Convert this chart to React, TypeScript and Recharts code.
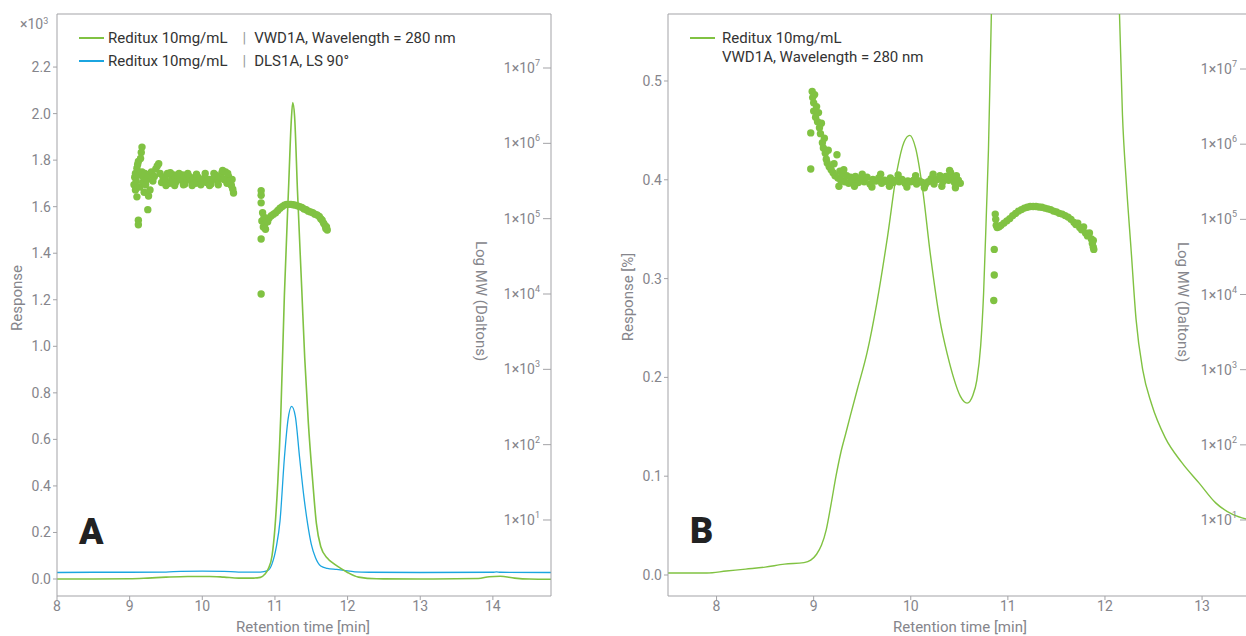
import React from 'react';
import { ComposedChart, Line, Scatter, XAxis, YAxis, ReferenceLine } from 'recharts';

const GREEN = '#80c242';
const BLUE = '#1ba5e0';
const TICK_TEXT = '#85858b';
const AXIS_LINE = '#a3a3a7';

// ---- panel A: retention time (min) vs response (x10^3) ----
const uvA: [number, number][] = [
  [8.0, 0.0], [8.5, 0.0], [9.0, 0.001], [9.25, 0.004], [9.5, 0.008], [9.8, 0.011], [10.1, 0.011],
  [10.3, 0.008], [10.5, 0.004], [10.7, 0.004], [10.8, 0.007], [10.86, 0.02], [10.91, 0.045],
  [10.96, 0.1], [11.0, 0.22], [11.04, 0.42], [11.08, 0.7], [11.13, 1.22], [11.19, 1.7],
  [11.225, 1.97], [11.245, 2.047], [11.27, 1.99], [11.31, 1.67], [11.37, 1.24], [11.41, 0.95],
  [11.46, 0.67], [11.52, 0.42], [11.57, 0.24], [11.63, 0.14], [11.72, 0.09], [11.8, 0.068],
  [11.9, 0.047], [12.0, 0.028], [12.15, 0.008], [12.4, 0.001], [13.0, 0.0], [13.8, 0.002],
  [13.95, 0.01], [14.1, 0.012], [14.3, 0.004], [14.5, 0.0], [14.8, -0.001],
];

const lsA: [number, number][] = [
  [8.0, 0.028], [8.5, 0.029], [9.0, 0.029], [9.5, 0.03], [9.7, 0.033], [10.0, 0.034], [10.3, 0.033],
  [10.5, 0.03], [10.8, 0.03], [10.9, 0.036], [10.96, 0.065], [11.02, 0.14], [11.07, 0.25],
  [11.13, 0.52], [11.18, 0.685], [11.23, 0.742], [11.28, 0.7], [11.34, 0.52], [11.4, 0.35],
  [11.45, 0.237], [11.5, 0.15], [11.56, 0.09], [11.63, 0.056], [11.72, 0.046], [11.85, 0.041],
  [11.95, 0.037], [12.1, 0.031], [12.3, 0.029], [13.0, 0.028], [14.0, 0.029], [14.05, 0.031],
  [14.1, 0.029], [14.8, 0.028],
];

// log10(MW) points
const mwA: [number, number][] = [
  [9.06, 5.45], [9.07, 5.55], [9.08, 5.38], [9.08, 5.6], [9.09, 5.5], [9.1, 5.67], [9.1, 5.29],
  [9.11, 5.72], [9.12, 5.76], [9.12, 4.98], [9.12, 4.92], [9.13, 5.58], [9.14, 5.42], [9.15, 5.8],
  [9.16, 5.88], [9.17, 5.95], [9.17, 5.62], [9.18, 5.48], [9.19, 5.55], [9.2, 5.35], [9.21, 5.6],
  [9.22, 5.45], [9.24, 5.52], [9.25, 5.12], [9.26, 5.3], [9.27, 5.58], [9.28, 5.38], [9.3, 5.62],
  [9.32, 5.5], [9.34, 5.56], [9.36, 5.66], [9.38, 5.7], [9.4, 5.73], [9.42, 5.6], [9.44, 5.48],
  [9.46, 5.55], [9.49, 5.52], [9.52, 5.6], [9.55, 5.47], [9.58, 5.54], [9.61, 5.58], [9.64, 5.49],
  [9.67, 5.55], [9.7, 5.52], [9.73, 5.58], [9.76, 5.46], [9.79, 5.53], [9.82, 5.56], [9.85, 5.5],
  [9.88, 5.54], [9.91, 5.47], [9.94, 5.55], [9.97, 5.52], [10.0, 5.5], [10.03, 5.54], [10.06, 5.48],
  [10.09, 5.52], [10.12, 5.46], [10.15, 5.53], [10.18, 5.58], [10.21, 5.5], [10.24, 5.56],
  [10.27, 5.61], [10.3, 5.52], [10.32, 5.62], [10.34, 5.47], [10.36, 5.56], [10.38, 5.5],
  [10.4, 5.44], [10.41, 5.52], [10.42, 5.39], [10.43, 5.34],
  [9.5, 5.44], [9.56, 5.61], [9.62, 5.44], [9.68, 5.6], [9.74, 5.45], [9.8, 5.6], [9.86, 5.44],
  [9.92, 5.59], [9.98, 5.45], [10.04, 5.6], [10.1, 5.44], [10.16, 5.6], [10.22, 5.45],
  [10.28, 5.64], [10.35, 5.6], [10.39, 5.46],
  [10.81, 5.37], [10.81, 5.31], [10.81, 5.21], [10.81, 4.73], [10.81, 4.0],
  [10.82, 4.97], [10.83, 5.08], [10.84, 4.89], [10.85, 5.02], [10.86, 4.93], [10.87, 4.86],
  [10.88, 5.0], [10.9, 4.96], [10.92, 5.01], [10.95, 5.04], [10.98, 5.06], [11.01, 5.08],
  [11.04, 5.11], [11.07, 5.14], [11.1, 5.16], [11.13, 5.18], [11.16, 5.19], [11.19, 5.19],
  [11.22, 5.19], [11.25, 5.185], [11.28, 5.18], [11.31, 5.17], [11.34, 5.16], [11.37, 5.15],
  [11.4, 5.13], [11.43, 5.12], [11.46, 5.1], [11.49, 5.09], [11.52, 5.08], [11.55, 5.06],
  [11.58, 5.05], [11.61, 5.03], [11.63, 5.0], [11.65, 4.98], [11.67, 4.94], [11.69, 4.91],
  [11.7, 4.87], [11.71, 4.89], [11.72, 4.85],
];

// ---- panel B: response (%) ----
const uvB: [number, number][] = [
  [7.5, 0.002], [7.7, 0.002], [7.9, 0.002], [8.1, 0.004], [8.3, 0.006], [8.5, 0.008], [8.7, 0.011],
  [8.9, 0.0125], [8.97, 0.015], [9.03, 0.021], [9.08, 0.03], [9.13, 0.046], [9.18, 0.072],
  [9.23, 0.1], [9.28, 0.124], [9.33, 0.143], [9.38, 0.162], [9.45, 0.188], [9.55, 0.225],
  [9.65, 0.275], [9.76, 0.342], [9.86, 0.41], [9.93, 0.438], [9.99, 0.445], [10.05, 0.432],
  [10.12, 0.392], [10.2, 0.326], [10.3, 0.258], [10.38, 0.222], [10.44, 0.2], [10.51, 0.181],
  [10.58, 0.174], [10.64, 0.182], [10.68, 0.197], [10.72, 0.232], [10.75, 0.285], [10.78, 0.37],
  [10.8, 0.43], [10.82, 0.52], [10.85, 0.66], [10.95, 0.95], [11.2, 1.15], [11.45, 1.2],
  [11.7, 1.1], [11.95, 0.9], [12.08, 0.7], [12.14, 0.6], [12.18, 0.466], [12.22, 0.397],
  [12.27, 0.328], [12.32, 0.259], [12.39, 0.207], [12.48, 0.173], [12.62, 0.139], [12.79, 0.114],
  [12.97, 0.093], [13.14, 0.073], [13.32, 0.061], [13.48, 0.056],
];

const mwB: [number, number][] = [
  [8.97, 6.15], [8.97, 5.67], [8.985, 6.7], [8.99, 6.62], [9.0, 6.55], [9.0, 6.44], [9.01, 6.66],
  [9.02, 6.36], [9.03, 6.5], [9.04, 6.3], [9.05, 6.42], [9.06, 6.22], [9.07, 6.14], [9.08, 6.28],
  [9.09, 6.02], [9.1, 5.95], [9.11, 6.08], [9.12, 5.88], [9.13, 5.8], [9.14, 5.75], [9.15, 5.92],
  [9.16, 5.7], [9.18, 5.66], [9.2, 5.62], [9.21, 5.74], [9.22, 5.58], [9.24, 5.86], [9.25, 5.55],
  [9.27, 5.64], [9.28, 5.52], [9.3, 5.6], [9.32, 5.5], [9.34, 5.58], [9.36, 5.48], [9.38, 5.56],
  [9.4, 5.51], [9.43, 5.57], [9.46, 5.49], [9.49, 5.54], [9.52, 5.5], [9.55, 5.56], [9.58, 5.47],
  [9.61, 5.53], [9.64, 5.51], [9.67, 5.55], [9.7, 5.48], [9.73, 5.52], [9.76, 5.5], [9.79, 5.55],
  [9.82, 5.49], [9.85, 5.52], [9.88, 5.5], [9.91, 5.53], [9.94, 5.48], [9.97, 5.51], [10.0, 5.5],
  [10.03, 5.52], [10.06, 5.47], [10.09, 5.51], [10.12, 5.49], [10.15, 5.46], [10.18, 5.5],
  [10.21, 5.54], [10.24, 5.47], [10.27, 5.53], [10.3, 5.58], [10.33, 5.5], [10.36, 5.57],
  [10.39, 5.52], [10.41, 5.62], [10.43, 5.55], [10.45, 5.49], [10.47, 5.58], [10.49, 5.52],
  [10.51, 5.48],
  [9.26, 5.44], [9.31, 5.66], [9.42, 5.44], [9.5, 5.6], [9.6, 5.43], [9.69, 5.6], [9.78, 5.44],
  [9.87, 5.59], [9.96, 5.43], [10.05, 5.58], [10.14, 5.42], [10.23, 5.6], [10.32, 5.44],
  [10.4, 5.65], [10.46, 5.42],
  [10.86, 4.6], [10.86, 4.26], [10.855, 3.92],
  [10.87, 5.07], [10.875, 5.0], [10.88, 4.92], [10.89, 4.89], [10.91, 4.9], [10.93, 4.92],
  [10.96, 4.95], [10.99, 4.98], [11.02, 5.01], [11.05, 5.05], [11.08, 5.08], [11.11, 5.11],
  [11.14, 5.13], [11.17, 5.15], [11.2, 5.16], [11.23, 5.17], [11.26, 5.17], [11.29, 5.17],
  [11.32, 5.165], [11.35, 5.16], [11.38, 5.15], [11.41, 5.14], [11.44, 5.13], [11.47, 5.11],
  [11.5, 5.1], [11.53, 5.08], [11.56, 5.07], [11.59, 5.05], [11.62, 5.03], [11.65, 5.0],
  [11.68, 4.96], [11.7, 4.93], [11.72, 4.95], [11.74, 4.89], [11.76, 4.86], [11.78, 4.9],
  [11.8, 4.82], [11.82, 4.78], [11.84, 4.82], [11.86, 4.74], [11.87, 4.68], [11.88, 4.63],
  [11.88, 4.72], [11.885, 4.6],
];

const xTicksA = [8, 9, 10, 11, 12, 13, 14];
const yTicksA = [0, 0.2, 0.4, 0.6, 0.8, 1.0, 1.2, 1.4, 1.6, 1.8, 2.0, 2.2];
const xTicksB = [8, 9, 10, 11, 12, 13];
const yTicksB = [0, 0.1, 0.2, 0.3, 0.4, 0.5];
const mwTicks = [1, 2, 3, 4, 5, 6, 7];

const toLine = (arr: [number, number][]) => arr.map(([t, v]) => ({ t, v }));
const toMw = (arr: [number, number][]) => arr.map(([t, mw]) => ({ t, mw }));

const MwTick = (props: any) => {
  const { x, y, payload } = props;
  return (
    <text x={x} y={y} dy={5} textAnchor="end" fill={TICK_TEXT} fontSize={14}>
      1×10<tspan dy={-7} fontSize={9}>{payload.value}</tspan>
    </text>
  );
};

const MwDot = (props: any) => <circle cx={props.cx} cy={props.cy} r={3.7} fill={GREEN} />;

const tickStyle = { fill: TICK_TEXT, fontSize: 14 };

const abs = (extra: React.CSSProperties): React.CSSProperties => ({ position: 'absolute', whiteSpace: 'pre', ...extra });

const Rotated = ({ x, y, deg, children }: { x: number; y: number; deg: number; children: React.ReactNode }) => (
  <div style={abs({ left: x, top: y, transform: `translate(-50%, -50%) rotate(${deg}deg)`, color: TICK_TEXT, fontSize: 15 })}>
    {children}
  </div>
);

const Sep = () => <span style={{ color: '#9a9a9a', margin: '0 8px 0 15px' }}>|</span>;

export default function App() {
  return (
    <div style={{ position: 'absolute', left: 0, top: 0, width: 1246, height: 636, overflow: 'hidden', background: '#fff', fontFamily: 'Roboto, sans-serif' }}>
      {/* panel A */}
      <div style={{ position: 'absolute', left: 0, top: 0 }}>
        <ComposedChart width={560} height={636} margin={{ top: 14, right: 9, bottom: 0, left: 0 }}>
          <XAxis type="number" dataKey="t" domain={[8, 14.8]} ticks={xTicksA} allowDataOverflow height={40}
            tick={tickStyle} tickSize={4} tickMargin={1} stroke={AXIS_LINE} />
          <YAxis yAxisId="resp" type="number" domain={[-0.073, 2.428]} ticks={yTicksA} allowDataOverflow width={57}
            tick={tickStyle} tickSize={4} tickMargin={2} stroke={AXIS_LINE} tickFormatter={(v: number) => v.toFixed(1)} />
          <YAxis yAxisId="mw" orientation="right" mirror type="number" domain={[-0.009, 7.717]} ticks={mwTicks}
            allowDataOverflow width={60} tick={<MwTick />} tickSize={8} tickMargin={3} stroke={AXIS_LINE} />
          <ReferenceLine yAxisId="resp" y={2.428} stroke={AXIS_LINE} />
          <Line yAxisId="resp" data={toLine(lsA)} dataKey="v" type="monotone" stroke={BLUE} strokeWidth={1.3} dot={false} isAnimationActive={false} />
          <Line yAxisId="resp" data={toLine(uvA)} dataKey="v" type="monotone" stroke={GREEN} strokeWidth={1.6} dot={false} isAnimationActive={false} />
          <Scatter yAxisId="mw" data={toMw(mwA)} dataKey="mw" shape={<MwDot />} isAnimationActive={false} />
        </ComposedChart>
      </div>

      {/* panel B */}
      <div style={{ position: 'absolute', left: 560, top: 0 }}>
        <ComposedChart width={700} height={636} margin={{ top: 14, right: 12, bottom: 0, left: 0 }}>
          <XAxis type="number" dataKey="t" domain={[7.5, 13.473]} ticks={xTicksB} allowDataOverflow height={40}
            tick={tickStyle} tickSize={4} tickMargin={1} stroke={AXIS_LINE} />
          <YAxis yAxisId="resp" type="number" domain={[-0.02125, 0.5678]} ticks={yTicksB} allowDataOverflow width={108}
            tick={tickStyle} tickSize={4} tickMargin={2} stroke={AXIS_LINE} tickFormatter={(v: number) => v.toFixed(1)} />
          <YAxis yAxisId="mw" orientation="right" mirror type="number" domain={[-0.011, 7.732]} ticks={mwTicks}
            allowDataOverflow width={60} tick={<MwTick />} tickSize={8} tickMargin={3} stroke={AXIS_LINE} />
          <ReferenceLine yAxisId="resp" y={0.5678} stroke={AXIS_LINE} />
          <Line yAxisId="resp" data={toLine(uvB)} dataKey="v" type="monotone" stroke={GREEN} strokeWidth={1.4} dot={false} isAnimationActive={false} />
          <Scatter yAxisId="mw" data={toMw(mwB)} dataKey="mw" shape={<MwDot />} isAnimationActive={false} />
        </ComposedChart>
      </div>

      {/* legends */}
      <div style={abs({ left: 79, top: 37, width: 25, height: 2, background: GREEN })} />
      <div style={abs({ left: 108, top: 29, fontSize: 15, lineHeight: '18px', color: '#333' })}>
        Reditux 10mg/mL<Sep />VWD1A, Wavelength = 280 nm
      </div>
      <div style={abs({ left: 79, top: 60, width: 25, height: 2, background: BLUE })} />
      <div style={abs({ left: 108, top: 52, fontSize: 15, lineHeight: '18px', color: '#333' })}>
        Reditux 10mg/mL<Sep />DLS1A, LS 90°
      </div>

      <div style={abs({ left: 690, top: 37, width: 25, height: 2, background: GREEN })} />
      <div style={abs({ left: 722, top: 29, fontSize: 15, lineHeight: '19px', color: '#333' })}>
        {'Reditux 10mg/mL\nVWD1A, Wavelength = 280 nm'}
      </div>

      {/* multiplier */}
      <div style={abs({ left: 20, top: 15, fontSize: 14, lineHeight: '18px', color: TICK_TEXT })}>
        ×10<sup style={{ fontSize: 9, verticalAlign: 'top', position: 'relative', top: -3 }}>3</sup>
      </div>

      {/* panel letters */}
      <div style={abs({ left: 79, top: 514, fontSize: 36, fontWeight: 900, lineHeight: '36px', color: '#222' })}>A</div>
      <div style={abs({ left: 690, top: 513, fontSize: 36, fontWeight: 900, lineHeight: '36px', color: '#222' })}>B</div>

      {/* axis titles */}
      <Rotated x={17} y={298} deg={-90}>Response</Rotated>
      <Rotated x={481} y={301} deg={90}>Log MW (Daltons)</Rotated>
      <Rotated x={303} y={627} deg={0}>Retention time [min]</Rotated>
      <Rotated x={628} y={297} deg={-90}>Response [%]</Rotated>
      <Rotated x={1183} y={302} deg={90}>Log MW (Daltons)</Rotated>
      <Rotated x={960} y={627} deg={0}>Retention time [min]</Rotated>
    </div>
  );
}
